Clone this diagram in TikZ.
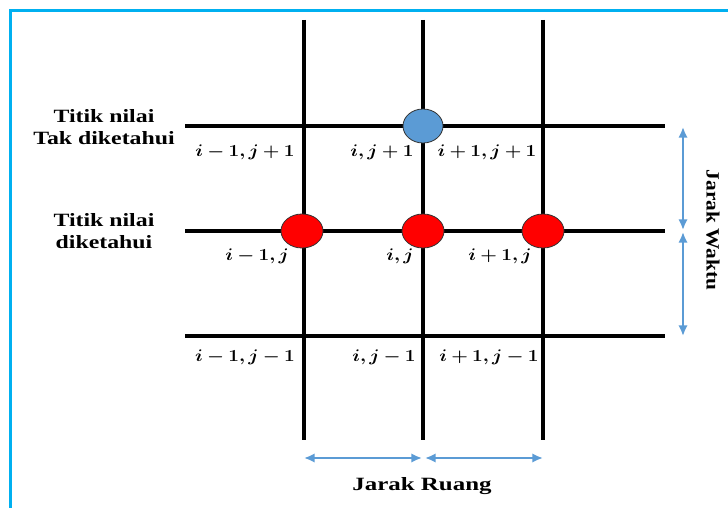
\documentclass[tikz,border=0pt]{standalone}
\usepackage{amsmath,amssymb,bm}
\usepackage{fontspec}
\setmainfont{Liberation Serif}
\usepackage{tikz}
\usetikzlibrary{arrows.meta, positioning, calc}
\usepackage{xcolor}
\definecolor{frameblue}{RGB}{0,176,240}
\definecolor{arrowblue}{RGB}{91,155,213}
\definecolor{nodeblue}{RGB}{91,155,213}
\definecolor{nodered}{RGB}{255,0,0}
\newcommand{\wide}[2][1.27]{\scalebox{#1}[1]{#2}}
\newcommand{\idx}[1]{\wide[1.13]{$\boldsymbol{#1}$}}

\begin{document}
\begin{tikzpicture}[x=0.03cm, y=-0.03cm,
  grid/.style={line width=2.6pt, black},
  pt/.style={draw=black!80, line width=0.7pt},
  span/.style={arrowblue, line width=2.1pt, {Latex[length=9pt,width=8pt]}-{Latex[length=9pt,width=8pt]}},
  lbl/.style={font=\fontsize{15}{17}\selectfont, inner sep=0pt},
  side/.style={font=\fontsize{16}{18.5}\selectfont\bfseries, align=center, inner sep=0pt}]
  \useasboundingbox (0,0) rectangle (728,508);
  % frame
  \draw[frameblue, line width=3pt] (10.5,508) -- (10.5,10.5) -- (728,10.5);
  % grid
  \foreach \x in {304,423,543} { \draw[grid] (\x,20) -- (\x,440); }
  \foreach \y in {126,231,336} { \draw[grid] (185,\y) -- (665,\y); }
  % points
  \fill[nodeblue] (423,126) ellipse (20 and 17);
  \draw[pt] (423,126) ellipse (20 and 17);
  \foreach \x in {302,423,543} {
    \fill[nodered] (\x,231) ellipse (21 and 17);
    \draw[pt] (\x,231) ellipse (21 and 17);
  }
  % index labels
  \node[lbl] (a1) at (245,152) {\idx{i-1,j+1}};
  \node[lbl] (a2) at (382,152) {\idx{i,j+1}};
  \node[lbl] (a3) at (487,152) {\idx{i+1,j+1}};
  \node[lbl] (b1) at (257,256) {\idx{i-1,j}};
  \node[lbl] (b2) at (400,256) {\idx{i,j}};
  \node[lbl] (b3) at (500,256) {\idx{i+1,j}};
  \node[lbl] (c1) at (245,357) {\idx{i-1,j-1}};
  \node[lbl] (c2) at (384,357) {\idx{i,j-1}};
  \node[lbl] (c3) at (489,357) {\idx{i+1,j-1}};
  % side texts
  \node[side] (unknown) at (104,127) {\wide{Titik nilai}\\\wide{Tak diketahui}};
  \node[side] (knowntxt) at (104,231) {\wide{Titik nilai}\\\wide{diketahui}};
  % distances
  \coordinate (t1) at (683,127);
  \coordinate (t2) at (683,230);
  \coordinate (t3) at (683,232);
  \coordinate (t4) at (683,336);
  \draw[span] (t1) -- (t2);
  \draw[span] (t3) -- (t4);
  \node[side, rotate=-90] (waktu) at (713,230) {\wide[1.14]{Jarak Waktu}};
  \coordinate (r1) at (304,458);
  \coordinate (r2) at (422,458);
  \coordinate (r3) at (425,458);
  \coordinate (r4) at (543,458);
  \draw[span] (r1) -- (r2);
  \draw[span] (r3) -- (r4);
  \node[side] (ruang) at (422,486) {\wide[1.33]{Jarak Ruang}};
\end{tikzpicture}
\end{document}
